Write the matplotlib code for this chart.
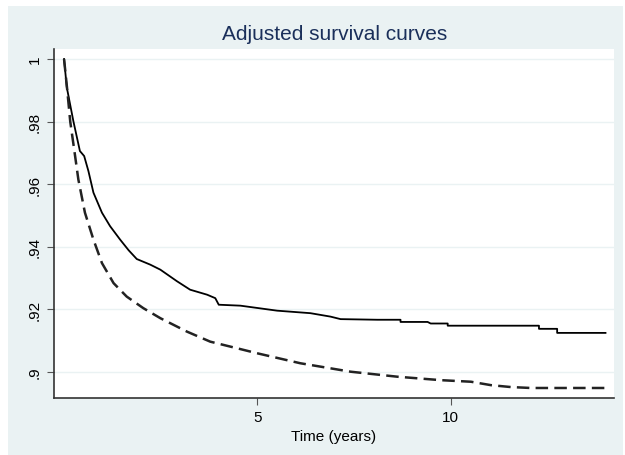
import matplotlib
matplotlib.use('Agg')
import matplotlib.pyplot as plt
from matplotlib.patches import Rectangle

plt.rcParams['font.family'] = ['Liberation Sans', 'DejaVu Sans']

BG_COLOR    = '#EAF2F3'
TITLE_COLOR = '#1A2F5A'

# solid curve (time in years, survival); repeated times mark visible steps
solid_t = [0.0, 0.07, 0.24, 0.41, 0.52, 0.63, 0.76, 0.98, 1.19, 1.45, 1.67,
           1.88, 2.23, 2.49, 2.92, 3.26, 3.70, 3.91, 4.0, 4.56, 5.51, 6.37,
           6.89, 7.15, 8.1, 8.7, 8.7, 9.4, 9.48, 9.92, 9.92, 12.28, 12.28,
           12.75, 12.75, 14.0]
solid_s = [1.0, 0.991, 0.9802, 0.9706, 0.969, 0.9642, 0.9573, 0.9509, 0.9466,
           0.9423, 0.9389, 0.9361, 0.9343, 0.9327, 0.929, 0.9263, 0.9247,
           0.9236, 0.9215, 0.9212, 0.9196, 0.9188, 0.9177, 0.9169, 0.9167,
           0.9167, 0.916, 0.916, 0.9155, 0.9155, 0.9148, 0.9148, 0.9138,
           0.9138, 0.9125, 0.9125]

# dashed curve
dashed_t = [0.0, 0.08, 0.16, 0.28, 0.37, 0.54, 0.76, 0.98, 1.28, 1.62, 2.05,
            2.49, 3.18, 3.78, 4.47, 4.99, 6.11, 7.41, 8.62, 9.74, 10.52,
            11.04, 11.55, 12.07, 14.0]
dashed_s = [1.0, 0.9904, 0.980, 0.9695, 0.9615, 0.9509, 0.9423, 0.9348,
            0.9284, 0.9241, 0.9204, 0.9172, 0.9129, 0.9097, 0.9076, 0.906,
            0.9028, 0.9001, 0.8985, 0.8974, 0.8969, 0.8958, 0.8952, 0.8949,
            0.8949]

y_ticks  = [0.9, 0.92, 0.94, 0.96, 0.98, 1.0]
y_labels = ['.9', '.92', '.94', '.96', '.98', '1']
x_ticks  = [5, 10]

fig = plt.figure(figsize=(6.25, 4.56), dpi=100, facecolor='white')
fig.patches.append(Rectangle((8 / 625, 0), 615 / 625, 449 / 456,
                             transform=fig.transFigure, facecolor=BG_COLOR,
                             edgecolor='none', zorder=-1))

ax = fig.add_axes([54 / 625, 57 / 456, 560 / 625, 349 / 456])
ax.set_facecolor('white')

ax.plot(solid_t, solid_s, color='black', linewidth=1.3)
ax.plot(dashed_t, dashed_s, color='#222222', linewidth=1.8,
        linestyle=(0, (5, 2.5)))

ax.set_xlim(-0.26, 14.22)
ax.set_ylim(0.8917, 1.0032)
ax.set_yticks(y_ticks)
ax.set_yticklabels(y_labels, rotation=90, va='center')
ax.set_xticks(x_ticks)
ax.grid(axis='y', color=BG_COLOR, linewidth=1)
ax.set_axisbelow(True)

for side in ['top', 'right']:
    ax.spines[side].set_visible(False)
for side in ['left', 'bottom']:
    ax.spines[side].set_color('#333333')
    ax.spines[side].set_linewidth(1.2)

ax.tick_params(length=5, color='#555555', labelsize=11, pad=4)
ax.set_xlabel('Time (years)', fontsize=11, labelpad=3)
fig.text(0.535, 1 - 35 / 456, 'Adjusted survival curves', fontsize=15,
         color=TITLE_COLOR, ha='center', va='center')

fig.savefig('out.png', dpi=100, facecolor='white')
